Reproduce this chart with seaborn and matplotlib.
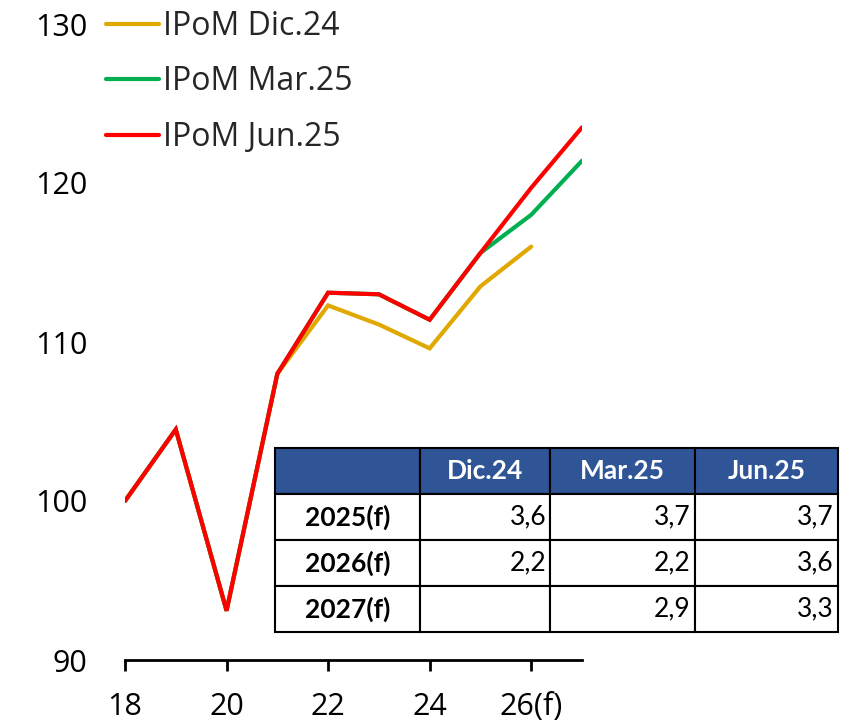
import matplotlib
matplotlib.use("Agg")
import matplotlib.pyplot as plt
import seaborn as sns
import pandas as pd
from matplotlib.lines import Line2D

# Series values (index, 2018 = 100)
years = [2018, 2019, 2020, 2021, 2022, 2023, 2024, 2025, 2026, 2027]
ipom_dic24 = [100.0, 104.5, 93.1, 108.0, 112.3, 111.1, 109.6, 113.5, 116.0, None]
ipom_mar25 = [100.0, 104.5, 93.1, 108.0, 113.1, 113.0, 111.4, 115.6, 118.0, 121.4]
ipom_jun25 = [100.0, 104.5, 93.1, 108.0, 113.1, 113.0, 111.4, 115.6, 119.7, 123.5]

series_names = ["IPoM Dic.24", "IPoM Mar.25", "IPoM Jun.25"]
series_colors = ["#E0A800", "#00B050", "#FF0000"]

xtick_values = [2018, 2020, 2022, 2024, 2026]
xtick_labels = ["18", "20", "22", "24", "26(f)"]
ytick_values = [90, 100, 110, 120, 130]

# Growth projections table
table_cols = ["", "Dic.24", "Mar.25", "Jun.25"]
table_rows = ["2025(f)", "2026(f)", "2027(f)"]
table_dic24 = ["3,6", "2,2", ""]
table_mar25 = ["3,7", "2,2", "2,9"]
table_jun25 = ["3,7", "3,6", "3,3"]

sns.set_theme(style="white")
plt.rcParams["font.family"] = ["Open Sans", "DejaVu Sans"]

df = pd.DataFrame({
    "year": years * 3,
    "value": ipom_dic24 + ipom_mar25 + ipom_jun25,
    "serie": [series_names[0]] * len(years) + [series_names[1]] * len(years)
             + [series_names[2]] * len(years),
}).dropna()

fig = plt.figure(figsize=(8.54, 7.27), dpi=100)
ax = fig.add_axes([125 / 854, 1 - 660 / 727, 457 / 854, 636 / 727])

sns.lineplot(data=df, x="year", y="value", hue="serie", hue_order=series_names,
             palette=series_colors, linewidth=3.0, ax=ax, legend=False,
             solid_capstyle="round", solid_joinstyle="miter")

ax.set_xlim(2018, 2027)
ax.set_ylim(90, 130)
ax.set_xticks(xtick_values)
ax.set_xticklabels(xtick_labels)
ax.set_yticks(ytick_values)
ax.set_xlabel("")
ax.set_ylabel("")

for side in ["left", "right", "top"]:
    ax.spines[side].set_visible(False)
ax.spines["bottom"].set_linewidth(2.0)
ax.spines["bottom"].set_color("black")
ax.tick_params(axis="x", direction="out", length=8, width=2.0, color="black",
               pad=15, labelsize=22, labelcolor="black", bottom=True)
ax.tick_params(axis="y", length=0, pad=27, labelsize=22, labelcolor="black")

# Legend
handles = [Line2D([0], [0], color=c, linewidth=3.0, solid_capstyle="round")
           for c in series_colors]
fig.legend(handles, series_names, loc="upper left",
           bbox_to_anchor=(106 / 854, 1 - 10 / 727), frameon=False,
           fontsize=23, handlelength=1.65, handletextpad=0.12,
           labelspacing=0.7, borderpad=0, borderaxespad=0)

# Table of projections
cell_text = [[r, a, b, c] for r, a, b, c in zip(table_rows, table_dic24,
                                                 table_mar25, table_jun25)]
col_widths = [145 / 563, 130 / 563, 145 / 563, 143 / 563]
x0 = (275 - 125) / 457
x1 = (838 - 125) / 457
y0 = (660 - 632) / 636
y1 = (660 - 448) / 636
tbl = ax.table(cellText=cell_text, colLabels=table_cols, colWidths=col_widths,
               bbox=[x0, y0, x1 - x0, y1 - y0], cellLoc="right")
tbl.auto_set_font_size(False)
tbl.set_fontsize(19)
header_blue = "#2F5597"
for (r, c), cell in tbl.get_celld().items():
    cell.set_edgecolor("black")
    cell.set_linewidth(1.5)
    cell.set_clip_on(False)
    txt = cell.get_text()
    txt.set_fontfamily(["Lato", "DejaVu Sans"])
    if r == 0:
        cell.set_facecolor(header_blue)
        txt.set_color("white")
        txt.set_fontweight("bold")
        txt.set_horizontalalignment("center")
        cell._loc = "center"
    elif c == 0:
        cell.set_facecolor("white")
        txt.set_fontweight("bold")
        txt.set_horizontalalignment("center")
        cell._loc = "center"
        txt.set_color("black")
    else:
        cell.set_facecolor("white")
        txt.set_color("black")
        cell.PAD = 0.03
tbl.set_zorder(5)

fig.savefig("out.png", dpi=100)
